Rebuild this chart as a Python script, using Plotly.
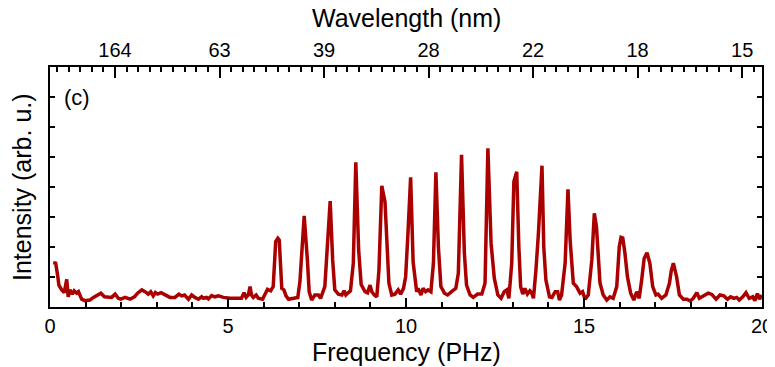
import plotly.graph_objects as go

# Frequency (PHz) and intensity (arb. u.)
freq = [0.09, 0.16, 0.22, 0.25, 0.33, 0.40, 0.47, 0.51, 0.56, 0.63, 0.68, 0.75, 0.80, 0.89, 0.98,
        1.12, 1.22, 1.34, 1.43, 1.53, 1.66, 1.73, 1.83, 1.92, 1.99, 2.11, 2.25, 2.37, 2.46, 2.58,
        2.67, 2.76, 2.83, 2.90, 2.96, 3.02, 3.12, 3.23, 3.37, 3.51, 3.62, 3.70, 3.78, 3.89, 3.98,
        4.07, 4.17, 4.26, 4.31, 4.40, 4.45, 4.54, 4.63, 4.73, 4.87, 5.06, 5.24, 5.38, 5.45, 5.51,
        5.57, 5.62, 5.66, 5.71, 5.79, 5.85, 5.97, 6.04, 6.11, 6.20, 6.27, 6.34, 6.40, 6.44, 6.51,
        6.57, 6.63, 6.70, 6.83, 6.96, 7.02, 7.08, 7.14, 7.23, 7.28, 7.35, 7.44, 7.54, 7.60, 7.72,
        7.79, 7.87, 7.94, 8.00, 8.10, 8.20, 8.26, 8.31, 8.38, 8.44, 8.52, 8.59, 8.67, 8.74, 8.85,
        8.92, 8.99, 9.04, 9.11, 9.18, 9.24, 9.32, 9.41, 9.52, 9.60, 9.69, 9.78, 9.85, 9.93, 9.99,
        10.05, 10.13, 10.20, 10.26, 10.30, 10.34, 10.42, 10.48, 10.55, 10.62, 10.70, 10.77, 10.84,
        10.91, 10.98, 11.08, 11.17, 11.28, 11.40, 11.47, 11.56, 11.64, 11.70, 11.80, 11.89, 12.01,
        12.13, 12.22, 12.30, 12.39, 12.48, 12.58, 12.67, 12.76, 12.83, 12.89, 12.97, 13.03, 13.11,
        13.17, 13.22, 13.28, 13.34, 13.41, 13.48, 13.53, 13.58, 13.65, 13.72, 13.82, 13.87, 13.93,
        14.03, 14.10, 14.19, 14.26, 14.31, 14.37, 14.47, 14.55, 14.61, 14.70, 14.79, 14.89, 14.96,
        15.03, 15.12, 15.22, 15.29, 15.35, 15.40, 15.45, 15.54, 15.64, 15.73, 15.82, 15.92, 15.99,
        16.04, 16.09, 16.15, 16.22, 16.31, 16.40, 16.48, 16.55, 16.62, 16.69, 16.77, 16.85, 16.93,
        17.02, 17.08, 17.18, 17.30, 17.40, 17.45, 17.51, 17.60, 17.68, 17.79, 17.89, 17.98, 18.07,
        18.17, 18.24, 18.35, 18.49, 18.59, 18.71, 18.82, 18.93, 19.03, 19.12, 19.21, 19.29, 19.36,
        19.46, 19.55, 19.64, 19.74, 19.80, 19.87, 19.93, 19.99]

intensity = [1.48, 1.46, 1.01, 0.73, 0.57, 0.48, 0.92, 0.34, 0.57, 0.43, 0.54, 0.46, 0.51, 0.26, 0.21,
             0.23, 0.32, 0.42, 0.46, 0.34, 0.32, 0.32, 0.43, 0.29, 0.26, 0.32, 0.26, 0.34, 0.46, 0.57,
             0.51, 0.43, 0.51, 0.37, 0.48, 0.43, 0.48, 0.40, 0.32, 0.32, 0.43, 0.37, 0.40, 0.26, 0.40,
             0.32, 0.26, 0.34, 0.29, 0.32, 0.27, 0.38, 0.34, 0.37, 0.32, 0.29, 0.29, 0.29, 0.48, 0.32,
             0.40, 0.68, 0.40, 0.32, 0.40, 0.29, 0.26, 0.40, 0.59, 0.54, 0.68, 2.18, 2.29, 2.23, 0.62,
             0.57, 0.37, 0.26, 0.29, 0.32, 0.84, 1.80, 3.04, 1.57, 0.51, 0.23, 0.40, 0.40, 0.29, 0.68,
             2.00, 3.53, 1.57, 0.57, 0.43, 0.40, 0.54, 0.40, 0.48, 0.54, 1.46, 4.82, 1.90, 0.75, 0.51,
             0.47, 0.73, 0.51, 0.40, 0.34, 1.23, 4.04, 3.50, 0.79, 0.40, 0.43, 0.57, 0.43, 0.62, 1.01,
             2.34, 4.32, 1.50, 0.75, 0.51, 0.62, 0.40, 0.62, 0.51, 0.57, 0.51, 1.46, 4.49,
             2.00, 0.68, 0.46, 0.40, 0.51, 0.62, 1.12, 5.07, 1.79, 0.73, 0.40, 0.32, 0.43,
             0.43, 0.79, 5.29, 2.12, 0.96, 0.40, 0.29, 0.51, 0.57, 0.29, 1.46, 4.18, 4.51,
             2.00, 0.68, 0.43, 0.62, 0.43, 0.54, 0.47, 0.29, 1.23, 2.46, 4.71, 2.00, 0.90,
             0.34, 0.32, 0.51, 0.51, 0.23, 0.40, 1.46, 3.92, 2.23, 0.79, 0.68, 0.46, 0.51,
             0.26, 0.40, 1.57, 3.12, 2.68, 1.50, 0.79, 0.40, 0.23, 0.34, 0.29, 0.68, 2.00,
             2.32, 2.30, 1.79, 1.01, 0.46, 0.23, 0.51, 0.29, 0.90, 1.62, 1.81, 1.46, 0.68,
             0.40, 0.43, 0.29, 0.40, 0.79, 1.20, 1.46, 1.01, 0.40, 0.26, 0.26, 0.20, 0.29,
             0.48, 0.29, 0.37, 0.46, 0.42, 0.26, 0.40, 0.37, 0.26, 0.34, 0.29, 0.32, 0.23,
             0.34, 0.48, 0.29, 0.34, 0.21, 0.45, 0.26, 0.40]

bottom_ticks = [0, 5, 10, 15, 20]
top_tick_labels = ["164", "63", "39", "28", "22", "18", "15"]
top_tick_start = 1.826   # PHz position of first top tick
top_tick_step = 2.936    # PHz spacing of top ticks
top_tick_freqs = [top_tick_start + k * top_tick_step for k in range(len(top_tick_labels))]

FONT = "Liberation Sans, Arial, sans-serif"
RED = "#AA0000"

fig = go.Figure()
fig.add_trace(go.Scatter(x=freq, y=intensity, mode="lines",
                         line=dict(color=RED, width=3.5), showlegend=False, hoverinfo="skip"))
# invisible trace to activate top axis
fig.add_trace(go.Scatter(x=[0, 20], y=[0, 0], xaxis="x2", mode="markers",
                         marker=dict(opacity=0), showlegend=False, hoverinfo="skip"))

# The page body adds an 8 px margin, so the figure is 8 px smaller each way
fig.update_layout(
    template="none",
    width=767, height=359,
    margin=dict(l=42, r=13, t=59, b=60, pad=0, autoexpand=False),
    paper_bgcolor="white", plot_bgcolor="white",
    font=dict(family=FONT, color="black", size=20),
    xaxis=dict(range=[0, 20], tickmode="array", tickvals=bottom_ticks, automargin=False,
               ticks="inside", ticklen=9, tickwidth=1.5, tickcolor="black",
               showline=True, linecolor="black", linewidth=2, mirror=False,
               showgrid=False, zeroline=False,
               tickfont=dict(size=20, family=FONT),
               minor=dict(tickmode="linear", tick0=0, dtick=1, ticks="inside",
                          ticklen=5, tickwidth=1.5, tickcolor="black", showgrid=False)),
    xaxis2=dict(range=[0, 20], overlaying="x", side="top", anchor="y", automargin=False,
                tickmode="array", tickvals=top_tick_freqs, ticktext=top_tick_labels,
                ticks="inside", ticklen=11, tickwidth=1.5, tickcolor="black",
                showline=True, linecolor="black", linewidth=2,
                showgrid=False, zeroline=False,
                tickfont=dict(size=20, family=FONT),
                minor=dict(tickmode="linear", tick0=top_tick_start, dtick=top_tick_step / 9,
                           ticks="inside", ticklen=5, tickwidth=1.5, tickcolor="black",
                           showgrid=False)),
    yaxis=dict(range=[0, 8], tickmode="linear", tick0=0, dtick=1, automargin=False,
               ticks="inside", ticklen=5, tickwidth=1.5, tickcolor="black",
               showticklabels=False, showline=True, linecolor="black", linewidth=2,
               mirror="ticks", showgrid=False, zeroline=False),
    annotations=[
        dict(text="Frequency (PHz)", xref="paper", yref="paper", x=0.5, y=-0.1875,
             xanchor="center", yanchor="middle", showarrow=False,
             font=dict(size=25, family=FONT)),
        dict(text="Wavelength (nm)", xref="paper", yref="paper", x=0.5, y=1.204,
             xanchor="center", yanchor="middle", showarrow=False,
             font=dict(size=25, family=FONT)),
        dict(text="Intensity (arb. u.)", xref="paper", yref="paper", x=-0.0393, y=0.5,
             xanchor="center", yanchor="middle", textangle=-90, showarrow=False,
             font=dict(size=25, family=FONT)),
        dict(text="(c)", xref="paper", yref="paper", x=0.0169, y=0.871,
             xanchor="left", yanchor="middle", showarrow=False,
             font=dict(size=22, family=FONT)),
    ],
)

fig.write_html("out.html")
